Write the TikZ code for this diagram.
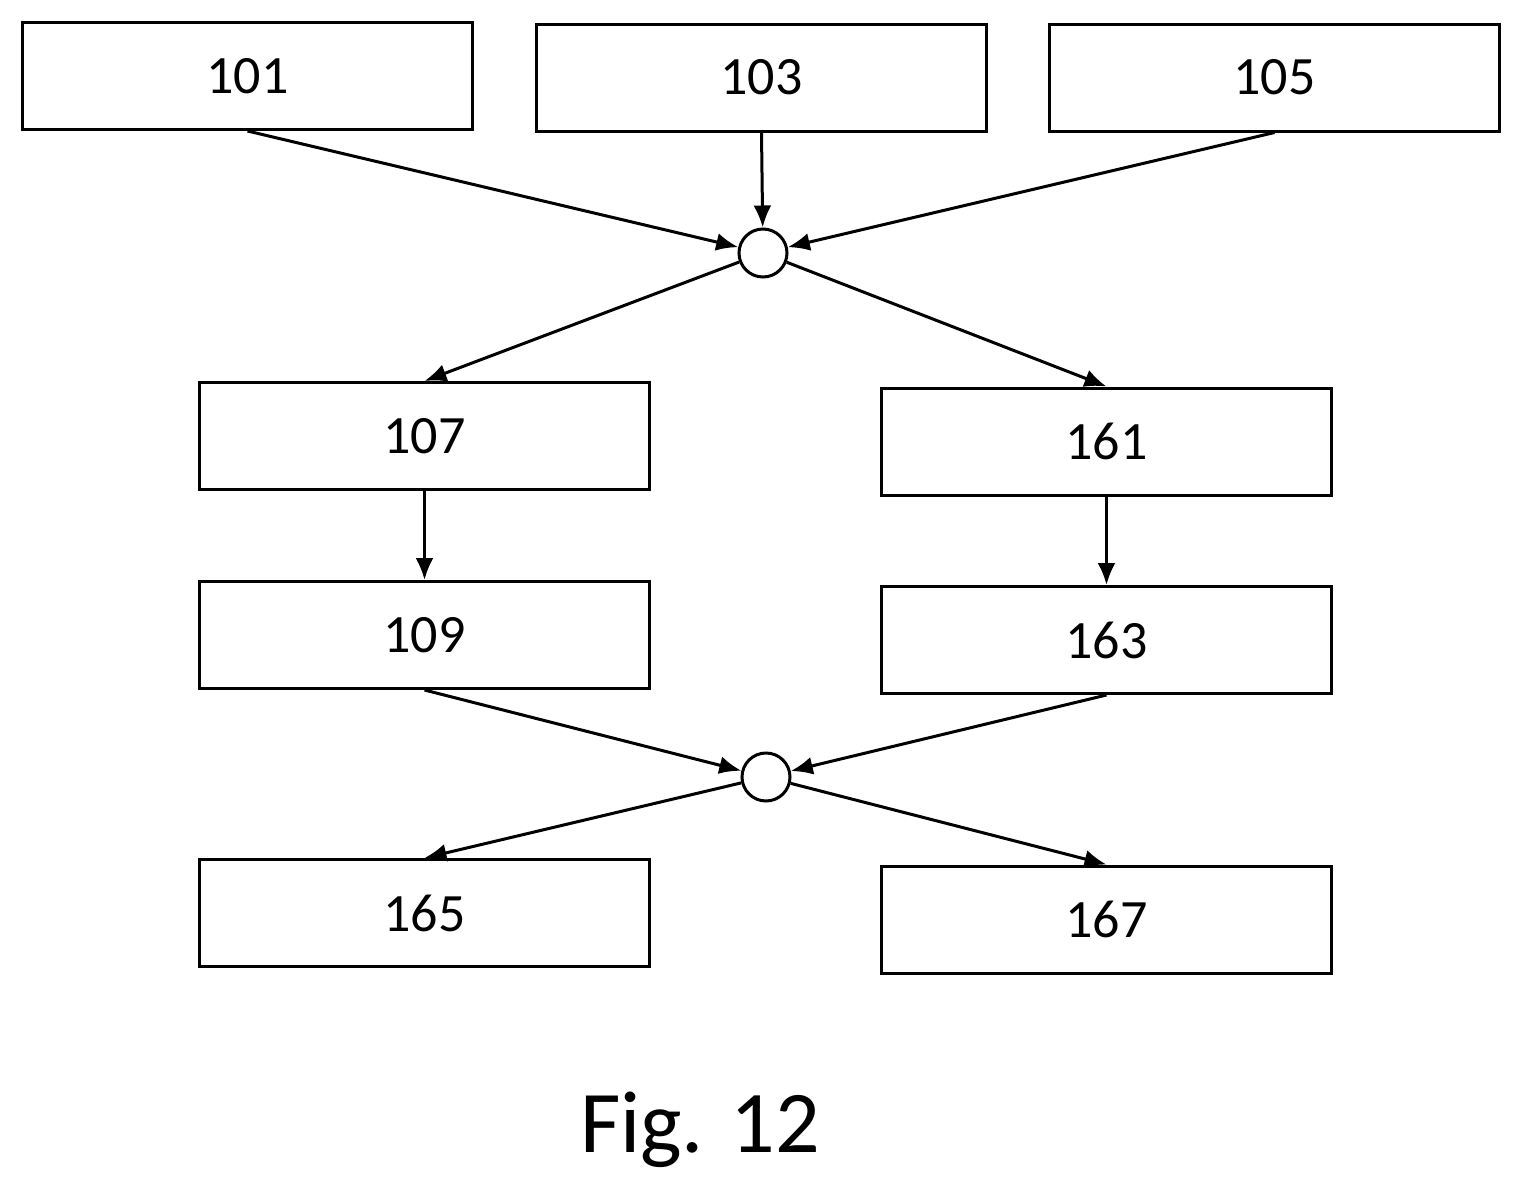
\documentclass[tikz,border=0pt]{standalone}
\usepackage{fontspec}
\setmainfont{Carlito}
\usetikzlibrary{arrows.meta}
\begin{document}
\begin{tikzpicture}[x=0.5pt,y=-0.5pt,
  box/.style={draw,line width=1.5pt,minimum width=225pt,minimum height=53.5pt,inner sep=0pt,font=\fontsize{27}{30}\selectfont},
  junc/.style={draw,circle,line width=1.5pt,minimum size=24pt,inner sep=0pt},
  arr/.style={line width=1.5pt,-{Latex[length=11pt,width=9pt]}}]
\useasboundingbox (0,0) rectangle (1523,1200);
\node[box] (b101) at (247.5,76) {101};
\node[box] (b103) at (761.5,77.5) {103};
\node[box] (b105) at (1274.5,77.5) {105};
\node[junc] (c1) at (763,253) {};
\node[box] (b107) at (424.5,436) {107};
\node[box] (b161) at (1106.5,441.5) {161};
\node[box] (b109) at (424.5,635) {109};
\node[box] (b163) at (1106.5,640) {163};
\node[junc] (c2) at (766,777) {};
\node[box] (b165) at (424.5,913) {165};
\node[box] (b167) at (1106.5,919.5) {167};
\node[font=\fontsize{44}{50}\selectfont] (fig) at (700,1130) {Fig. 12};
\draw[arr] (b101.south) -- (c1);
\draw[arr] (b103.south) -- (c1);
\draw[arr] (b105.south) -- (c1);
\draw[arr] (c1) -- (b107.north);
\draw[arr] (c1) -- (b161.north);
\draw[arr] (b107) -- (b109);
\draw[arr] (b161) -- (b163);
\draw[arr] (b109.south) -- (c2);
\draw[arr] (b163.south) -- (c2);
\draw[arr] (c2) -- (b165.north);
\draw[arr] (c2) -- (b167.north);
\end{tikzpicture}
\end{document}
